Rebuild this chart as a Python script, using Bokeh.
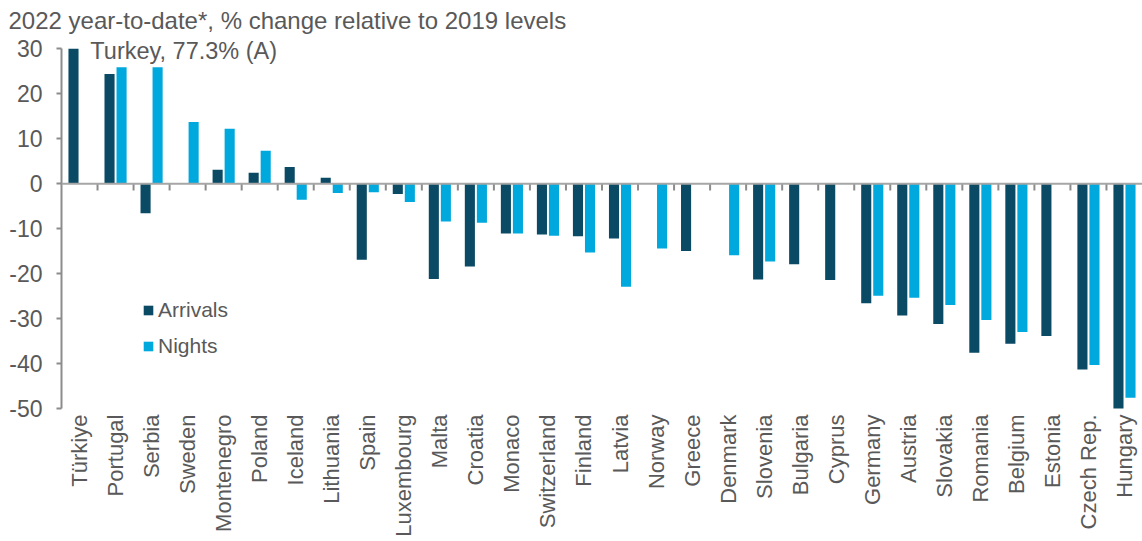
from bokeh.plotting import figure
from bokeh.models import (ColumnDataSource, Range1d, FixedTicker, Span, Label,
                          Legend, LegendItem)
from bokeh.embed import file_html
from bokeh.resources import INLINE
import math

# 2022 year-to-date, % change relative to 2019 levels (None = not reported)
countries = ["Türkiye", "Portugal", "Serbia", "Sweden", "Montenegro", "Poland",
             "Iceland", "Lithuania", "Spain", "Luxembourg", "Malta", "Croatia",
             "Monaco", "Switzerland", "Finland", "Latvia", "Norway", "Greece",
             "Denmark", "Slovenia", "Bulgaria", "Cyprus", "Germany", "Austria",
             "Slovakia", "Romania", "Belgium", "Estonia", "Czech Rep.", "Hungary"]
arrivals = [77.3, 24.4, -6.6, None, 3.1, 2.4, 3.7, 1.3, -16.9, -2.3, -21.2, -18.4,
            -11.1, -11.3, -11.7, -12.2, None, -15.0, None, -21.3, -17.9, -21.4,
            -26.6, -29.3, -31.2, -37.6, -35.6, -33.9, -41.3, -50.4]
nights = [None, 25.9, 25.9, 13.7, 12.2, 7.3, -3.6, -2.1, -1.9, -4.1, -8.4, -8.7,
          -11.1, -11.6, -15.3, -22.9, -14.4, None, -15.9, -17.3, None, None,
          -24.9, -25.4, -27.0, -30.3, -33.0, None, -40.3, -47.6]
y_ticks = [-50, -40, -30, -20, -10, 0, 10, 20, 30]
title_text = "2022 year-to-date*, % change relative to 2019 levels"
note_text = "Turkey, 77.3% (A)"

DARK = "#0b4a64"
LIGHT = "#00a9dd"
TEXT = "#595959"
AXIS = "#8c8c8c"
FONT = "Liberation Sans"

n = len(countries)
bar_w = 0.28
shift = 0.167
y_lo, y_hi = y_ticks[0], y_ticks[-1]
headroom = 2.5  # extra space above the axis for the outlier note


def bar_source(values, offset):
    # bars beyond the axis limits are cut at the axis end
    xs, tops = [], []
    for i, v in enumerate(values):
        if v is not None:
            xs.append(i + 0.5 + offset)
            tops.append(max(min(v, y_hi), y_lo - 1))
    return ColumnDataSource(dict(x=xs, top=tops))


p = figure(width=1142, height=541, output_backend="svg", toolbar_location=None,
           x_range=Range1d(0, n), y_range=Range1d(y_lo, y_hi + headroom),
           min_border_left=61, min_border_right=0, min_border_top=0,
           min_border_bottom=133)
p.outline_line_color = None
p.grid.grid_line_color = None
p.background_fill_color = "white"
p.border_fill_color = "white"

p.title.text = title_text
p.title.text_font = FONT
p.title.text_font_size = "24px"
p.title.text_font_style = "normal"
p.title.text_color = TEXT
p.title.align = "left"
p.title.offset = -53
p.title.standoff = 8

# zero line with small separators between countries
p.add_layout(Span(location=0, dimension="width", line_color="#a6a6a6",
                  line_width=2))
sep = ColumnDataSource(dict(x=[i for i in range(1, n)]))
p.segment(x0="x", x1="x", y0=0, y1=-1.5, source=sep, line_color=AXIS,
          line_width=2)

r_arr = p.vbar(x="x", top="top", width=bar_w, bottom=0,
               source=bar_source(arrivals, -shift), fill_color=DARK,
               line_color=None)
r_ngt = p.vbar(x="x", top="top", width=bar_w, bottom=0,
               source=bar_source(nights, shift), fill_color=LIGHT,
               line_color=None)

# x axis: country names only
xa = p.xaxis[0]
xa.ticker = FixedTicker(ticks=[i + 0.5 for i in range(n)])
xa.major_label_overrides = {i + 0.5: c for i, c in enumerate(countries)}
xa.major_label_orientation = math.pi / 2
xa.axis_line_color = None
xa.major_tick_line_color = None
xa.minor_tick_line_color = None
xa.major_tick_out = 0
xa.major_tick_in = 0
xa.major_label_standoff = 6
xa.major_label_text_font = FONT
xa.major_label_text_font_size = "22px"
xa.major_label_text_color = TEXT

ya = p.yaxis[0]
ya.ticker = FixedTicker(ticks=y_ticks)
ya.major_label_overrides = {v: str(v) for v in y_ticks}
ya.bounds = (y_lo, y_hi)
ya.axis_line_color = AXIS
ya.axis_line_width = 2
ya.major_tick_line_color = AXIS
ya.major_tick_line_width = 2
ya.major_tick_out = 5
ya.major_tick_in = 0
ya.minor_tick_line_color = None
ya.major_label_standoff = 14
ya.major_label_text_font = FONT
ya.major_label_text_font_size = "23px"
ya.major_label_text_color = TEXT

legend = Legend(items=[LegendItem(label="Arrivals", renderers=[r_arr]),
                       LegendItem(label="Nights", renderers=[r_ngt])],
                location=(81, 50), orientation="vertical",
                glyph_width=12, glyph_height=12, label_height=20,
                spacing=12, padding=0, margin=0, label_standoff=4,
                label_text_font=FONT, label_text_font_size="21px",
                label_text_color=TEXT, border_line_color=None,
                background_fill_alpha=0)
p.add_layout(legend)

p.add_layout(Label(x=0.8, y=29.6, text=note_text, text_font=FONT,
                   text_font_size="23.5px", text_color=TEXT,
                   text_baseline="middle"))

open("out.html", "w").write(file_html(p, INLINE))
